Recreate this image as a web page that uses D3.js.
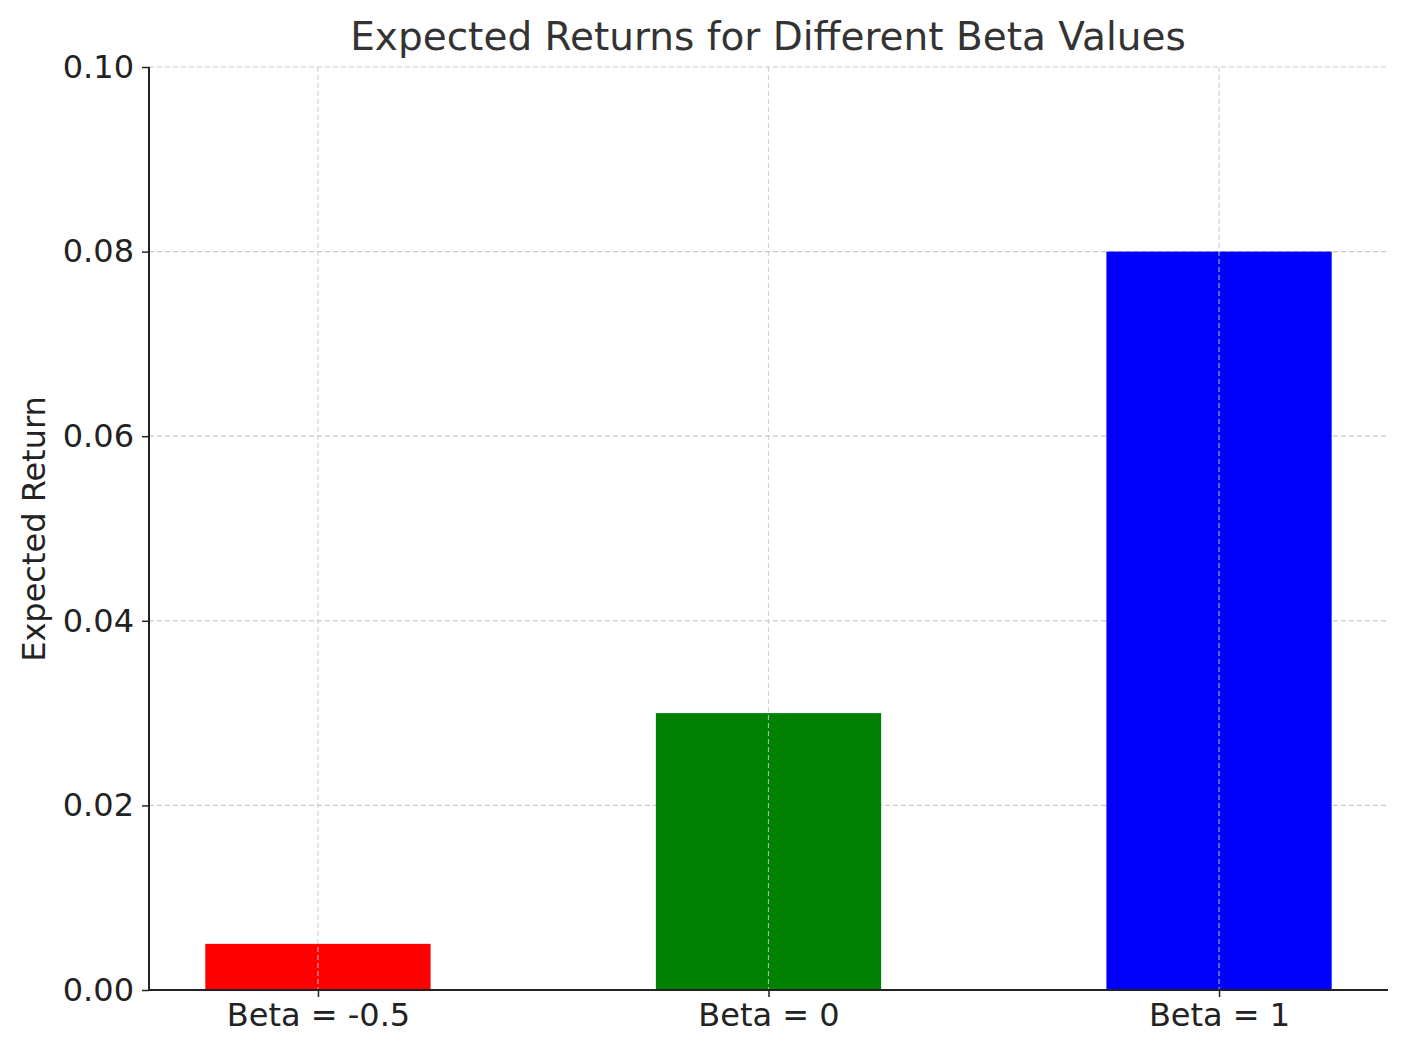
<!DOCTYPE html>
<meta charset="utf-8">
<style>
body { margin:0; background:#fff; }
svg text { font-family: "DejaVu Sans", sans-serif; fill:#222; }
</style>
<body>
<script src="https://d3js.org/d3.v7.min.js"></script>
<script>
var categories = ["Beta = -0.5", "Beta = 0", "Beta = 1"];
var values = [0.005, 0.03, 0.08];
var colors = ["#ff0000", "#008000", "#0000ff"];
var yTicks = [0, 0.02, 0.04, 0.06, 0.08, 0.10];

var width = 1408, height = 1053;
var plotL = 149, plotR = 1388, plotT = 67, plotB = 990;

var svg = d3.select("body").append("svg").attr("width", width).attr("height", height);

var x = d3.scaleLinear().domain([-0.375, 2.375]).range([plotL, plotR]);
var y = d3.scaleLinear().domain([0, 0.1]).range([plotB, plotT]);

// grid
svg.append("g").selectAll("line").data(yTicks).join("line")
  .attr("x1", plotL).attr("x2", plotR)
  .attr("y1", d => y(d)).attr("y2", d => y(d))
  .attr("stroke", "#c8c8c8").attr("stroke-dasharray", "5,3").attr("stroke-width", 1.2);

// bars
svg.append("g").selectAll("rect").data(values).join("rect")
  .attr("x", (d, i) => x(i - 0.25))
  .attr("width", x(0.25) - x(-0.25))
  .attr("y", d => y(d))
  .attr("height", d => y(0) - y(d))
  .attr("fill", (d, i) => colors[i]);

// vertical grid above bars
svg.append("g").selectAll("line").data(categories).join("line")
  .attr("x1", (d, i) => x(i)).attr("x2", (d, i) => x(i))
  .attr("y1", plotT).attr("y2", plotB)
  .attr("stroke", "#c8c8c8").attr("stroke-opacity", 0.8).attr("stroke-dasharray", "5,3").attr("stroke-width", 1.2);

// axes
var yAxis = svg.append("g").attr("transform", "translate(" + plotL + ",0)")
  .call(d3.axisLeft(y).tickValues(yTicks).tickFormat(d3.format(".2f")).tickSize(7).tickPadding(8));
var xAxis = svg.append("g").attr("transform", "translate(0," + plotB + ")")
  .call(d3.axisBottom(x).tickValues([0, 1, 2]).tickFormat(i => categories[i]).tickSize(7).tickPadding(6));
[yAxis, xAxis].forEach(function (g) {
  g.attr("font-size", null);
  g.select(".domain").attr("stroke", "#222").attr("stroke-width", 2);
  g.selectAll(".tick line").attr("stroke", "#222").attr("stroke-width", 1.5);
  g.selectAll(".tick text").style("font-size", "32px").attr("fill", "#222");
});
xAxis.select(".domain").attr("d", "M" + plotL + ",0H" + plotR);
yAxis.select(".domain").attr("d", "M0," + plotB + "V" + plotT);

svg.append("text").attr("x", 768).attr("y", 50).attr("text-anchor", "middle")
  .style("font-size", "39px").style("fill", "#333").text("Expected Returns for Different Beta Values");
svg.append("text").attr("transform", "translate(45,529) rotate(-90)").attr("text-anchor", "middle")
  .style("font-size", "32px").text("Expected Return");
</script>
